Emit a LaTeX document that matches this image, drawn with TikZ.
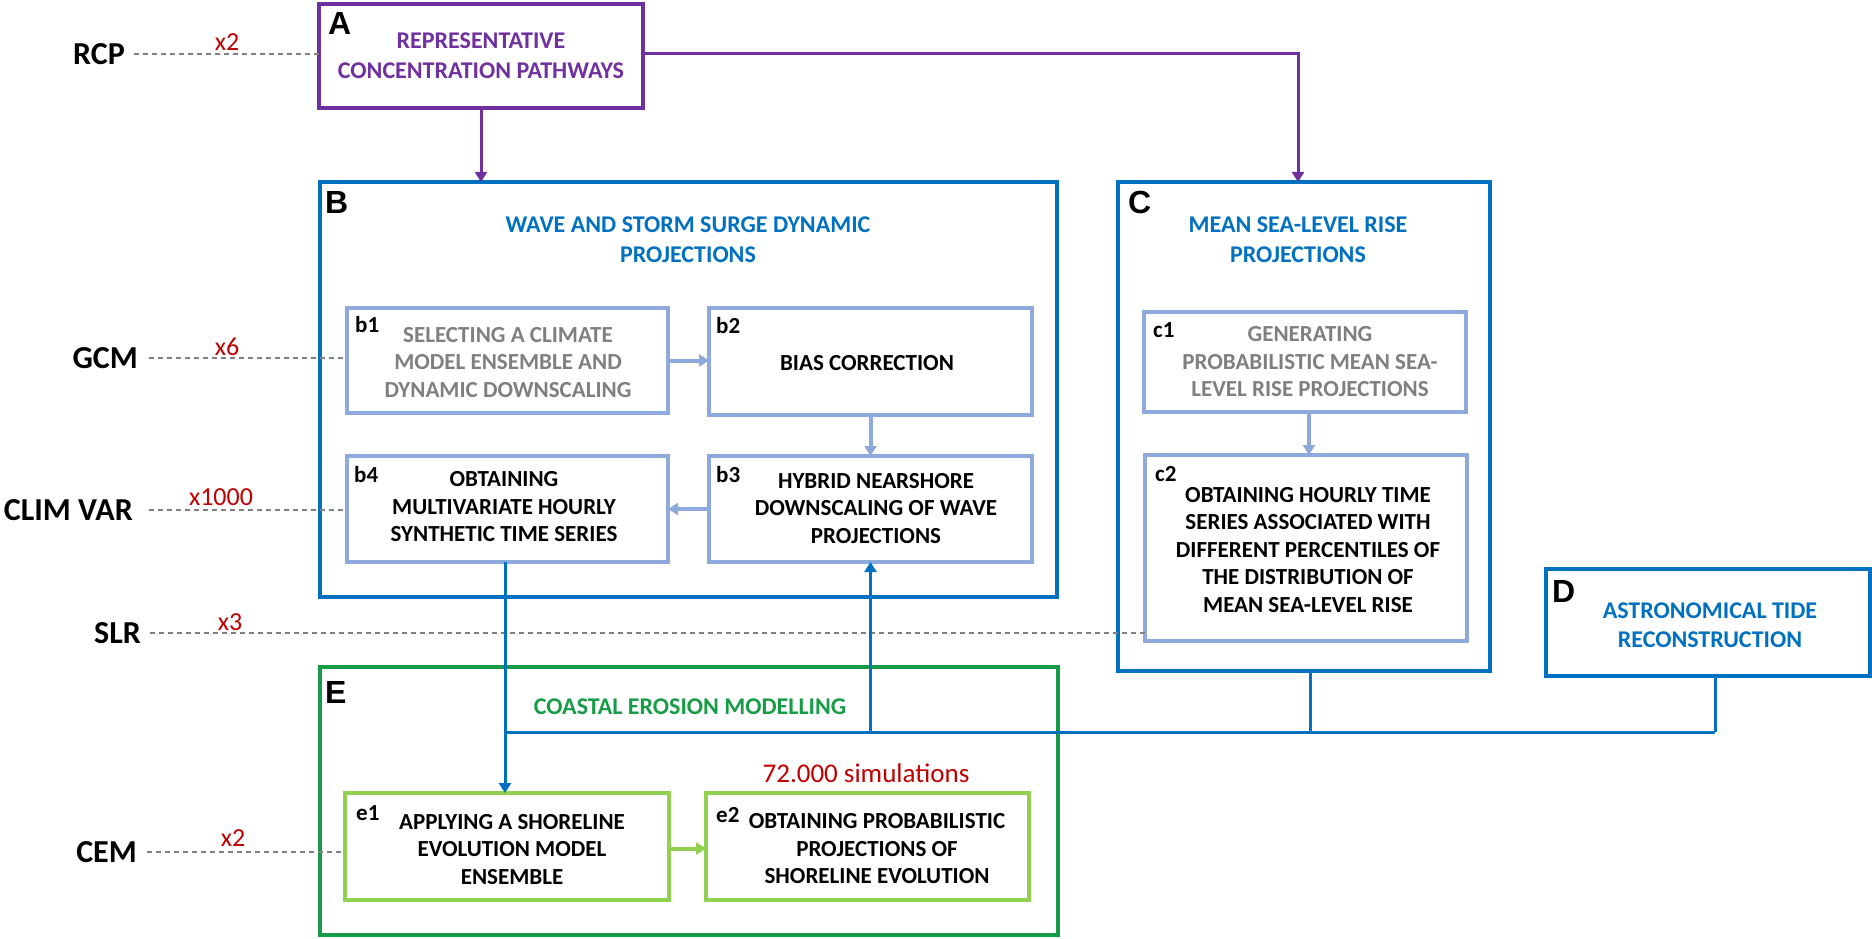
\documentclass[tikz,border=0pt]{standalone}
\usepackage{fontspec}
\setmainfont{Carlito}
\newfontfamily\lettfont{Liberation Sans}
\usetikzlibrary{arrows.meta}
\definecolor{cpurple}{HTML}{7030A0}
\definecolor{cblue}{HTML}{0070C0}
\definecolor{clblue}{HTML}{8EA9DB}
\definecolor{cgray}{HTML}{7F7F7F}
\definecolor{cgreen}{HTML}{169C47}
\definecolor{clgreen}{HTML}{92D050}
\definecolor{cred}{HTML}{C00000}
\definecolor{cdash}{HTML}{808080}
\begin{document}
\begin{tikzpicture}[x=1pt,y=-1pt,
  obox/.style={draw, line width=4.5pt, inner sep=0pt, outer sep=0pt},
  ibox/.style={draw=clblue, line width=4pt, inner sep=0pt, outer sep=0pt},
  gbox/.style={draw=clgreen, line width=4pt, inner sep=0pt, outer sep=0pt},
  btext/.style={font=\fontsize{23}{27.5}\selectfont\bfseries, align=center, inner sep=0pt},
  ttl/.style={font=\fontsize{24}{30}\selectfont\bfseries, align=center, inner sep=0pt},
  bigl/.style={font=\fontsize{32}{32}\selectfont\lettfont\bfseries, anchor=base west, inner sep=0pt},
  smalll/.style={font=\fontsize{23}{23}\selectfont\bfseries, anchor=base west, inner sep=0pt},
  sidel/.style={font=\fontsize{32}{32}\selectfont\bfseries, anchor=east, inner sep=0pt},
  mult/.style={font=\fontsize{26}{26}\selectfont, text=cred, inner sep=0pt},
  dashline/.style={draw=cdash, line width=2pt, dash pattern=on 5pt off 4pt},
  bline/.style={draw=cblue, line width=3pt},
  pline/.style={draw=cpurple, line width=3pt},
  lbline/.style={draw=clblue, line width=4pt},
  lgline/.style={draw=clgreen, line width=4pt},
  tip/.style={-{Triangle[width=12pt,length=10pt]}}
]
\useasboundingbox (0,0) rectangle (1872,939);

% side labels and dashed guides
\node[sidel] (rcp) at (125,54) {RCP};
\node[sidel] (gcm) at (138,358) {GCM};
\node[sidel] (climvar) at (133,510) {CLIM VAR};
\node[sidel] (slr) at (141,633) {SLR};
\node[sidel] (cem) at (137,852) {CEM};
\node[mult] (mrcp) at (227,42) {x2};
\node[mult] (mgcm) at (227,347) {x6};
\node[mult] (mclim) at (221,497) {x1000};
\node[mult] (mslr) at (230,622) {x3};
\node[mult] (mcem) at (233,838) {x2};

% main boxes
\node[obox, draw=cpurple, minimum width=324pt, minimum height=104pt] (A) at (481,56) {};
\node[obox, draw=cblue, minimum width=737pt, minimum height=415pt] (B) at (688.5,389.5) {};
\node[obox, draw=cblue, minimum width=372pt, minimum height=489pt] (C) at (1304,426.5) {};
\node[obox, draw=cblue, minimum width=324pt, minimum height=107pt] (D) at (1708,622.5) {};
\node[obox, draw=cgreen, minimum width=738pt, minimum height=268pt] (E) at (689,801) {};

% inner boxes
\node[ibox, minimum width=321pt, minimum height=105pt] (b1) at (507.5,360.5) {};
\node[ibox, minimum width=323pt, minimum height=107pt] (b2) at (870.5,361.5) {};
\node[ibox, minimum width=323pt, minimum height=106pt] (b3) at (870.5,509) {};
\node[ibox, minimum width=321pt, minimum height=106pt] (b4) at (507.5,509) {};
\node[ibox, minimum width=322pt, minimum height=100pt] (c1) at (1305,362) {};
\node[ibox, minimum width=322pt, minimum height=186pt] (c2) at (1306,548) {};
\node[gbox, minimum width=324pt, minimum height=107pt] (e1) at (507,846.5) {};
\node[gbox, minimum width=323pt, minimum height=107pt] (e2) at (867.5,846.5) {};

\draw[dashline] ([xshift=9pt]rcp.east) -- (rcp.east -| A.west);
\draw[dashline] ([xshift=11pt]gcm.east) -- (gcm.east -| b1.west);
\draw[dashline] ([xshift=16pt]climvar.east) -- (climvar.east -| b4.west);
\draw[dashline] ([xshift=9pt]slr.east) -- (slr.east -| c2.west);
\draw[dashline] ([xshift=10pt]cem.east) -- (cem.east -| e1.west);

% titles
\node[ttl, text=cpurple] (Atitle) at (481,56) {REPRESENTATIVE\\CONCENTRATION PATHWAYS};
\node[ttl, text=cblue] (Btitle) at (688,240) {WAVE AND STORM SURGE DYNAMIC\\PROJECTIONS};
\node[ttl, text=cblue] (Ctitle) at (1298,240) {MEAN SEA-LEVEL RISE\\PROJECTIONS};
\node[ttl, text=cblue, font=\fontsize{24}{29}\selectfont\bfseries] (Dtitle) at (1710,625.5) {ASTRONOMICAL TIDE\\RECONSTRUCTION};
\node[ttl, text=cgreen] (Etitle) at (690,707) {COASTAL EROSION MODELLING};

\node[bigl] (Alab) at (328,35) {A};
\node[bigl] (Blab) at (325,213) {B};
\node[bigl] (Clab) at (1128,213) {C};
\node[bigl] (Dlab) at (1552,602) {D};
\node[bigl] (Elab) at (325,703) {E};

% inner texts
\node[smalll] (b1lab) at (355,332) {b1};
\node[smalll] (b2lab) at (716,333) {b2};
\node[smalll] (b3lab) at (716,482) {b3};
\node[smalll] (b4lab) at (354,482) {b4};
\node[smalll] (c1lab) at (1153,337) {c1};
\node[smalll] (c2lab) at (1155,481) {c2};
\node[smalll] (e1lab) at (356,820) {e1};
\node[smalll] (e2lab) at (716,822) {e2};

\node[btext, text=cgray] (b1t) at (508,362.5) {SELECTING A CLIMATE\\MODEL ENSEMBLE AND\\DYNAMIC DOWNSCALING};
\node[btext] (b2t) at (867,363) {BIAS CORRECTION};
\node[btext] (b3t) at (876,508.5) {HYBRID NEARSHORE\\DOWNSCALING OF WAVE\\PROJECTIONS};
\node[btext] (b4t) at (504,507) {OBTAINING\\MULTIVARIATE HOURLY\\SYNTHETIC TIME SERIES};
\node[btext, text=cgray] (c1t) at (1310,362) {GENERATING\\PROBABILISTIC MEAN SEA-\\LEVEL RISE PROJECTIONS};
\node[btext] (c2t) at (1308,550) {OBTAINING HOURLY TIME\\SERIES ASSOCIATED WITH\\DIFFERENT PERCENTILES OF\\THE DISTRIBUTION OF\\MEAN SEA-LEVEL RISE};
\node[btext] (e1t) at (512,849.5) {APPLYING A SHORELINE\\EVOLUTION MODEL\\ENSEMBLE};
\node[btext] (e2t) at (877,849) {OBTAINING PROBABILISTIC\\PROJECTIONS OF\\SHORELINE EVOLUTION};
\node[font=\fontsize{27}{27}\selectfont, text=cred, inner sep=0pt] (sims) at (866,773) {72.000 simulations};

% purple connectors
\draw[pline, tip] (A.south) -- (A.south |- B.north);
\draw[pline, tip] ([yshift=2pt]A.east) -| ([xshift=-6pt]C.north);

% light connectors
\draw[lbline, tip] (b1.east) -- (b1.east -| b2.west);
\draw[lbline, tip] (b2.south) -- (b3.north);
\draw[lbline, tip] (b3.west) -- (b4.east);
\draw[lbline, tip] ([xshift=4pt]c1.south) -- ([xshift=4pt]c1.south |- c2.north);
\draw[lgline, tip] ([yshift=-2pt]e1.east) -- ([yshift=-2pt]e1.east -| e2.west);

% blue connectors
\coordinate (jy) at (0,732);
\draw[bline, tip] ([xshift=-2.5pt]b4.south) -- ([xshift=-2.5pt]b4.south |- e1.north);
\draw[bline] ([xshift=6pt]C.south) -- ([xshift=6pt]C.south |- jy);
\draw[bline] ([xshift=7pt]D.south) -- ([xshift=7pt]D.south |- jy);
\draw[bline] ([xshift=-2.5pt]b4.south |- jy) -- ([xshift=7pt]D.south |- jy);
\draw[bline, tip] (b3.south |- jy) -- (b3.south);
\end{tikzpicture}
\end{document}
